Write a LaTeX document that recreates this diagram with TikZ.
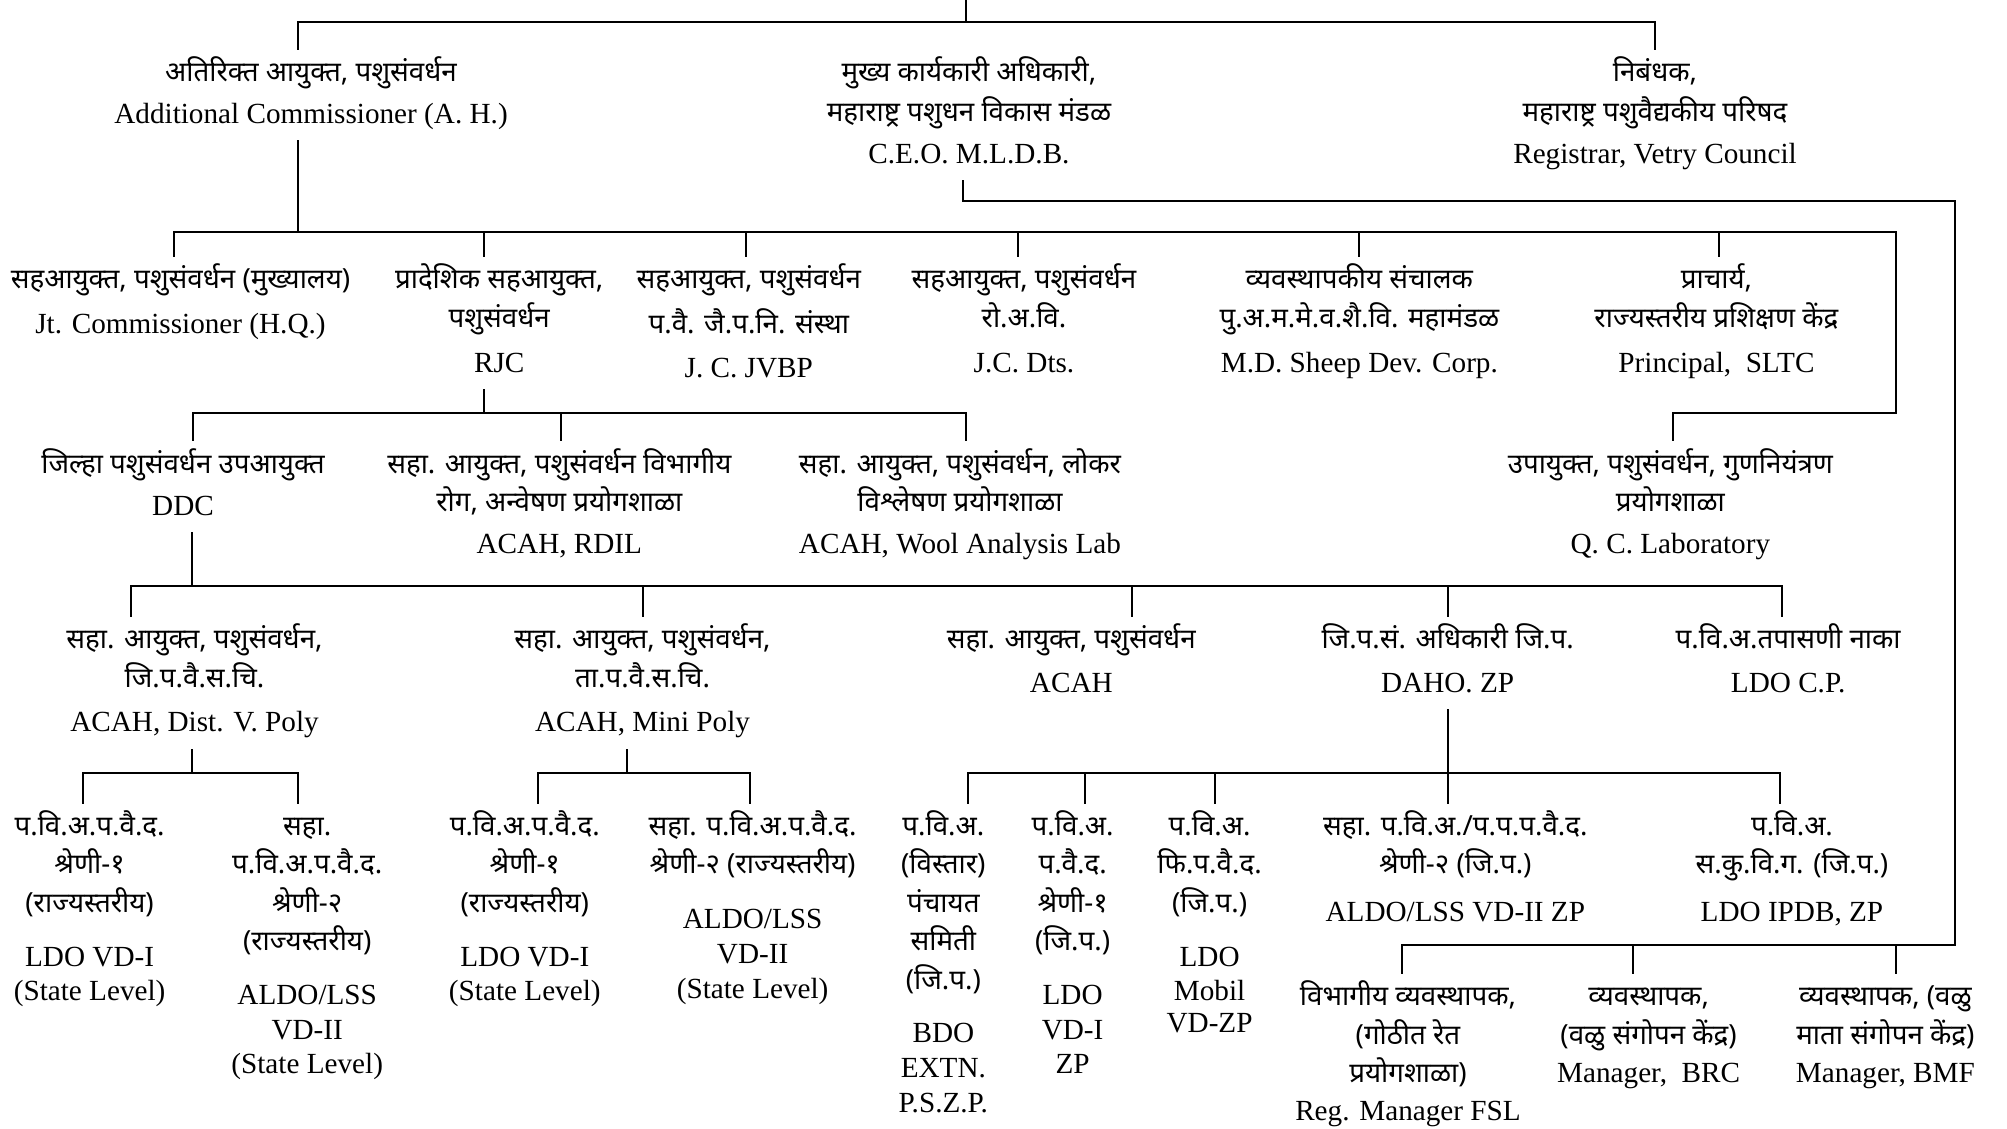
\documentclass[tikz,border=0pt]{standalone}
\usepackage{fontspec}
\setmainfont{Liberation Serif}
\newfontfamily\deva[Script=Devanagari,Scale=0.95]{Noto Sans}
\newcommand{\dline}[1]{\strut{\deva #1}}
\newcommand{\eline}[1]{\strut #1}
\tikzset{
  post/.style={align=center, anchor=north, inner xsep=0pt, inner ysep=2.56pt,
    font=\fontsize{14.6}{19.2}\selectfont}
}
\begin{document}
\begin{tikzpicture}[x=0.64pt, y=-0.64pt, line width=1pt, line cap=rect]
	\useasboundingbox (0,0) rectangle (1568,882);
	
	%%%%% LEVEL 1 %%%%%
	\node[post] (addc) at (243,38) {\dline{अतिरिक्त आयुक्त, पशुसंवर्धन}\\[1.9pt] \eline{Additional Commissioner (A. H.)}};
	\node[post] (ceo) at (757,38) {\dline{मुख्य कार्यकारी अधिकारी,}\\[0.6pt] \dline{महाराष्ट्र पशुधन विकास मंडळ}\\[1.9pt] \eline{C.E.O. M.L.D.B.}};
	\node[post] (reg) at (1293,38) {\dline{निबंधक,}\\[0.6pt] \dline{महाराष्ट्र पशुवैद्यकीय परिषद}\\[1.9pt] \eline{Registrar, Vetry Council}};
	
	\coordinate (top) at (755,0);
	\coordinate (j0) at (755,17);
	\coordinate (j0l) at (233,17);
	\coordinate (j0r) at (1293,17);
	\draw (top) -- (j0);
	\draw (j0l) -- (j0r);
	\draw (j0l) -- (j0l |- addc.north);
	\draw (j0r) -- (j0r |- reg.north);
	
	%%%%% LEVEL 2 %%%%%
	\node[post] (jtc) at (141,200) {\dline{सहआयुक्त, पशुसंवर्धन (मुख्यालय)}\\[3.2pt] \eline{Jt. Commissioner (H.Q.)}};
	\node[post] (rjc) at (390,200) {\dline{प्रादेशिक सहआयुक्त,}\\ \dline{पशुसंवर्धन}\\[3.2pt] \eline{RJC}};
	\node[post] (jvbp) at (585,200) {\dline{सहआयुक्त, पशुसंवर्धन}\\[3.2pt] \dline{प.वै. जै.प.नि. संस्था}\\[2.6pt] \eline{J. C. JVBP}};
	\node[post] (dts) at (800,200) {\dline{सहआयुक्त, पशुसंवर्धन}\\ \dline{रो.अ.वि.}\\[3.2pt] \eline{J.C. Dts.}};
	\node[post] (sheep) at (1062,200) {\dline{व्यवस्थापकीय संचालक}\\ \dline{पु.अ.म.मे.व.शै.वि. महामंडळ}\\[3.2pt] \eline{M.D. Sheep Dev. Corp.}};
	\node[post] (sltc) at (1341,200) {\dline{प्राचार्य,}\\ \dline{राज्यस्तरीय प्रशिक्षण केंद्र}\\[3.2pt] \eline{Principal,~ SLTC}};
	
	\coordinate (j1) at (233,181);
	\coordinate (j1l) at (136,181);
	\coordinate (j1r) at (1481,181);
	\coordinate (j1q) at (1307,323);
	\draw (j1 |- addc.south) -- (j1);
	\draw (j1l) -- (j1r) |- (j1q);
	\foreach \x/\nd in {136/jtc,378/rjc,583/jvbp,795/dts,1062/sheep,1343/sltc}
		\draw (\x,181) -- (\x,181 |- \nd.north);
	
	% CEO branch down the right side
	\coordinate (c0) at (752,157);
	\coordinate (c1) at (1527,738);
	\coordinate (c2) at (1095,738);
	\draw (c0 |- ceo.south) -- (c0) -| (c1) -- (c2);
	
	%%%%% LEVEL 3 %%%%%
	\node[post] (ddc) at (143,344) {\dline{जिल्हा पशुसंवर्धन उपआयुक्त}\\[1.9pt] \eline{DDC}};
	\node[post] (rdil) at (437,344) {\dline{सहा. आयुक्त, पशुसंवर्धन विभागीय}\\ \dline{रोग, अन्वेषण प्रयोगशाळा}\\[1.9pt] \eline{ACAH, RDIL}};
	\node[post] (wool) at (750,344) {\dline{सहा. आयुक्त, पशुसंवर्धन, लोकर}\\ \dline{विश्लेषण प्रयोगशाळा}\\[1.9pt] \eline{ACAH, Wool Analysis Lab}};
	\node[post] (qc) at (1305,344) {\dline{उपायुक्त, पशुसंवर्धन, गुणनियंत्रण}\\ \dline{प्रयोगशाळा}\\[1.9pt] \eline{Q. C. Laboratory}};
	
	\draw (j1q) -- (j1q |- qc.north);
	\coordinate (j2) at (378,323);
	\coordinate (j2l) at (151,323);
	\coordinate (j2r) at (755,323);
	\draw (j2 |- rjc.south) -- (j2);
	\draw (j2l) -- (j2r);
	\foreach \x/\nd in {151/ddc,438/rdil,755/wool}
		\draw (\x,323) -- (\x,323 |- \nd.north);
	
	%%%%% LEVEL 4 %%%%%
	\node[post] (dpoly) at (152,481) {\dline{सहा. आयुक्त, पशुसंवर्धन,}\\ \dline{जि.प.वै.स.चि.}\\[3.2pt] \eline{ACAH, Dist. V. Poly}};
	\node[post] (mpoly) at (502,481) {\dline{सहा. आयुक्त, पशुसंवर्धन,}\\ \dline{ता.प.वै.स.चि.}\\[3.2pt] \eline{ACAH, Mini Poly}};
	\node[post] (acah) at (837,481) {\dline{सहा. आयुक्त, पशुसंवर्धन}\\[2.6pt] \eline{ACAH}};
	\node[post] (daho) at (1131,481) {\dline{जि.प.सं. अधिकारी जि.प.}\\[2.6pt] \eline{DAHO. ZP}};
	\node[post] (ldocp) at (1397,481) {\dline{प.वि.अ.तपासणी नाका}\\[2.6pt] \eline{LDO C.P.}};
	
	\coordinate (j3) at (150,458);
	\coordinate (j3l) at (102,458);
	\coordinate (j3r) at (1392,458);
	\draw (j3 |- ddc.south) -- (j3);
	\draw (j3l) -- (j3r);
	\foreach \x/\nd in {102/dpoly,502/mpoly,884/acah,1131/daho,1392/ldocp}
		\draw (\x,458) -- (\x,458 |- \nd.north);
	
	%%%%% LEVEL 5 %%%%%
	\node[post] (ldoa) at (70,627) {\dline{प.वि.अ.प.वै.द.}\\ \dline{श्रेणी-१}\\ \dline{(राज्यस्तरीय)}\\[7.7pt] \eline{LDO VD-I}\\[-1.9pt] \eline{(State Level)}};
	\node[post] (aldoa) at (240,627) {\dline{सहा.}\\ \dline{प.वि.अ.प.वै.द.}\\ \dline{श्रेणी-२}\\ \dline{(राज्यस्तरीय)}\\[7.7pt] \eline{ALDO/LSS}\\[-1.9pt] \eline{VD-II}\\[-1.9pt] \eline{(State Level)}};
	\node[post] (ldob) at (410,627) {\dline{प.वि.अ.प.वै.द.}\\ \dline{श्रेणी-१}\\ \dline{(राज्यस्तरीय)}\\[7.7pt] \eline{LDO VD-I}\\[-1.9pt] \eline{(State Level)}};
	\node[post] (aldob) at (588,627) {\dline{सहा. प.वि.अ.प.वै.द.}\\ \dline{श्रेणी-२ (राज्यस्तरीय)}\\[8.3pt] \eline{ALDO/LSS}\\[-1.9pt] \eline{VD-II}\\[-1.9pt] \eline{(State Level)}};
	\node[post] (bdo) at (737,627) {\dline{प.वि.अ.}\\ \dline{(विस्तार)}\\ \dline{पंचायत}\\ \dline{समिती}\\ \dline{(जि.प.)}\\[7.7pt] \eline{BDO}\\[-1.9pt] \eline{EXTN.}\\[-1.9pt] \eline{P.S.Z.P.}};
	\node[post] (ldozp) at (838,627) {\dline{प.वि.अ.}\\ \dline{प.वै.द.}\\ \dline{श्रेणी-१}\\ \dline{(जि.प.)}\\[7.7pt] \eline{LDO}\\[-1.9pt] \eline{VD-I}\\[-1.9pt] \eline{ZP}};
	\node[post] (mobil) at (945,627) {\dline{प.वि.अ.}\\ \dline{फि.प.वै.द.}\\ \dline{(जि.प.)}\\[7.7pt] \eline{LDO}\\[-1.9pt] \eline{Mobil}\\[-3.2pt] \eline{VD-ZP}};
	\node[post] (aldozp) at (1137,627) {\dline{सहा. प.वि.अ./प.प.प.वै.द.}\\ \dline{श्रेणी-२ (जि.प.)}\\[4.5pt] \eline{ALDO/LSS VD-II ZP}};
	\node[post] (ipdb) at (1400,627) {\dline{प.वि.अ.}\\ \dline{स.कु.वि.ग. (जि.प.)}\\[4.5pt] \eline{LDO IPDB, ZP}};
	
	\coordinate (j4a) at (150,604);
	\coordinate (j4al) at (65,604);
	\coordinate (j4ar) at (233,604);
	\draw (j4a |- dpoly.south) -- (j4a);
	\draw (j4al) -- (j4ar);
	\foreach \x/\nd in {65/ldoa,233/aldoa}
		\draw (\x,604) -- (\x,604 |- \nd.north);
	
	\coordinate (j4b) at (490,604);
	\coordinate (j4bl) at (420,604);
	\coordinate (j4br) at (586,604);
	\draw (j4b |- mpoly.south) -- (j4b);
	\draw (j4bl) -- (j4br);
	\foreach \x/\nd in {420/ldob,586/aldob}
		\draw (\x,604) -- (\x,604 |- \nd.north);
	
	\coordinate (j4c) at (1131,604);
	\coordinate (j4cl) at (756,604);
	\coordinate (j4cr) at (1391,604);
	\draw (j4c |- daho.south) -- (j4c);
	\draw (j4cl) -- (j4cr);
	\foreach \x/\nd in {756/bdo,848/ldozp,949/mobil,1131/aldozp,1391/ipdb}
		\draw (\x,604) -- (\x,604 |- \nd.north);
	
	%%%%% CEO UNITS %%%%%
	\node[post] (fsl) at (1100,760) {\dline{विभागीय व्यवस्थापक,}\\ \dline{(गोठीत रेत}\\ \dline{प्रयोगशाळा)}\\ \eline{Reg. Manager FSL}};
	\node[post] (brc) at (1288,760) {\dline{व्यवस्थापक,}\\ \dline{(वळु संगोपन केंद्र)}\\ \eline{Manager,~ BRC}};
	\node[post] (bmf) at (1473,760) {\dline{व्यवस्थापक, (वळु}\\ \dline{माता संगोपन केंद्र)}\\ \eline{Manager, BMF}};
	
	\foreach \x/\nd in {1095/fsl,1276/brc,1481/bmf}
		\draw (\x,738) -- (\x,738 |- \nd.north);
	
\end{tikzpicture}
\end{document}
